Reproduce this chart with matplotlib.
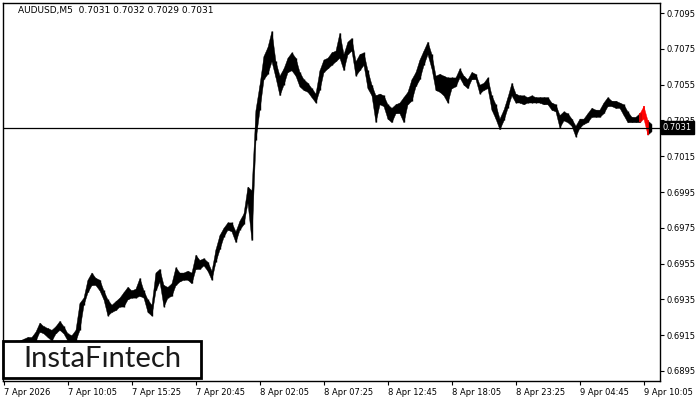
import numpy as np
import matplotlib.pyplot as plt
import matplotlib.transforms as mtransforms
from matplotlib.patches import Rectangle

# AUDUSD M5, every 4 bars (high / low, in pips 0.0001)
high_pips = [6910, 6911, 6911, 6912, 6912, 6913, 6914, 6914, 6917, 6922,
             6920, 6919, 6918, 6920, 6923, 6920, 6916, 6915, 6918, 6933,
             6936, 6946, 6950, 6947, 6946, 6940, 6935, 6932, 6934, 6936,
             6939, 6942, 6940, 6941, 6947, 6940, 6935, 6932, 6950, 6952,
             6943, 6942, 6944, 6953, 6950, 6950, 6951, 6950, 6960, 6957,
             6958, 6956, 6951, 6963, 6971, 6975, 6978, 6978, 6973, 6979,
             6983, 6998, 6996, 7041, 7055, 7071, 7076, 7085, 7068, 7060,
             7064, 7070, 7073, 7070, 7062, 7058, 7056, 7053, 7050, 7063,
             7069, 7070, 7073, 7074, 7084, 7072, 7079, 7081, 7068, 7072,
             7073, 7063, 7055, 7049, 7050, 7049, 7044, 7042, 7044, 7045,
             7048, 7051, 7058, 7062, 7069, 7074, 7079, 7072, 7060, 7061,
             7060, 7059, 7059, 7059, 7064, 7060, 7058, 7062, 7061, 7055,
             7056, 7059, 7049, 7044, 7036, 7041, 7048, 7056, 7050, 7049,
             7049, 7048, 7049, 7048, 7048, 7048, 7048, 7045, 7044, 7038,
             7040, 7039, 7036, 7032, 7036, 7036, 7039, 7042, 7041, 7041,
             7045, 7048, 7046, 7046, 7045, 7044, 7040, 7037, 7037, 7039,
             7043, 7035, 7033]
low_pips = [6907, 6907, 6908, 6908, 6909, 6911, 6912, 6912, 6912, 6917,
            6916, 6914, 6912, 6916, 6918, 6916, 6912, 6912, 6912, 6918,
            6932, 6939, 6943, 6943, 6940, 6935, 6926, 6928, 6929, 6931,
            6931, 6935, 6936, 6936, 6937, 6936, 6928, 6926, 6940, 6945,
            6931, 6936, 6937, 6943, 6945, 6946, 6946, 6944, 6952, 6952,
            6954, 6951, 6946, 6956, 6963, 6970, 6974, 6973, 6967, 6974,
            6977, 6989, 6968, 7024, 7041, 7058, 7061, 7068, 7059, 7049,
            7055, 7062, 7063, 7060, 7054, 7052, 7051, 7048, 7045, 7052,
            7062, 7064, 7066, 7068, 7070, 7063, 7072, 7074, 7060, 7063,
            7066, 7053, 7049, 7034, 7044, 7043, 7036, 7034, 7039, 7039,
            7034, 7044, 7046, 7054, 7058, 7066, 7072, 7064, 7052, 7051,
            7049, 7045, 7053, 7054, 7059, 7055, 7053, 7058, 7058, 7050,
            7052, 7053, 7041, 7036, 7030, 7035, 7042, 7049, 7045, 7045,
            7044, 7045, 7045, 7045, 7045, 7044, 7044, 7041, 7040, 7031,
            7035, 7034, 7032, 7026, 7031, 7033, 7034, 7037, 7037, 7037,
            7039, 7043, 7043, 7042, 7042, 7038, 7034, 7034, 7034, 7034,
            7036, 7027, 7029]
step = 4  # bars per reading
red_from, red_to = 159, 161  # readings of the highlighted last bars

tick_labels = ["7 Apr 2026", "7 Apr 10:05", "7 Apr 15:25", "7 Apr 20:45",
               "8 Apr 02:05", "8 Apr 07:25", "8 Apr 12:45", "8 Apr 18:05",
               "8 Apr 23:25", "9 Apr 04:45", "9 Apr 10:05"]
tick_bars = [0, 64, 128, 192, 256, 320, 384, 448, 512, 576, 640]
price_ticks = [0.6895, 0.6915, 0.6935, 0.6955, 0.6975, 0.6995,
               0.7015, 0.7035, 0.7055, 0.7075, 0.7095]
last_price = 0.7031
header = "AUDUSD,M5  0.7031 0.7032 0.7029 0.7031"

hi = np.array(high_pips) / 10000
lo = np.array(low_pips) / 10000
bars = np.arange(len(hi)) * step

fig = plt.figure(figsize=(7, 4), dpi=100)
ax = fig.add_axes([3/700, 19/400, 657/700, 378/400])

# price band, drawn as bar ranges joined together
black = slice(0, red_from + 1)
ax.fill_between(bars[black], lo[black], hi[black], color='black', lw=0.3)
ax.vlines(bars[black], lo[black], hi[black], color='black', lw=1.0)
red = slice(red_from, red_to + 1)
ax.fill_between(bars[red], lo[red], hi[red], color='red', lw=0.3)
ax.vlines(bars[red], lo[red], hi[red], color='red', lw=1.2)
tail = slice(red_to, None)
ax.fill_between(bars[tail], lo[tail], hi[tail], color='black', lw=0.3)

ax.axhline(last_price, color='black', lw=0.9)

ax.set_xlim(-0.5, 656.5)
ax.set_ylim(0.688941, 0.710059)

ax.yaxis.tick_right()
ax.set_yticks(price_ticks)
ax.set_yticklabels([f"{p:.4f}" for p in price_ticks])
ax.set_xticks(tick_bars)
ax.set_xticklabels(tick_labels, ha='left')
ax.tick_params(axis='both', length=3, width=0.8, labelsize=6, pad=2,
               colors='black')
for s in ax.spines.values():
    s.set_linewidth(1)
    s.set_color('black')

# current price box on the scale
trans = mtransforms.blended_transform_factory(ax.transAxes, ax.transData)
ax.text(1.004, last_price, f"{last_price:.4f}", transform=trans, color='white',
        fontsize=6, va='center', ha='left', zorder=10, clip_on=False,
        bbox=dict(boxstyle='square,pad=0.25', fc='black', ec='black'))

fig.text(18/700, 1 - 11/400, header, fontsize=6.5, va='center', ha='left')

# logo
fig.patches.append(Rectangle((3/700, 1 - 378/400), 198/700, 37/400,
                             transform=fig.transFigure, fc='white',
                             ec='black', lw=2, zorder=5))
fig.text(102/700, 1 - 359/400, "InstaF\u0131ntech", fontsize=21,
         family='Lato', color='#1a1a1a', ha='center', va='center', zorder=6)

fig.savefig('out.png', dpi=100)
